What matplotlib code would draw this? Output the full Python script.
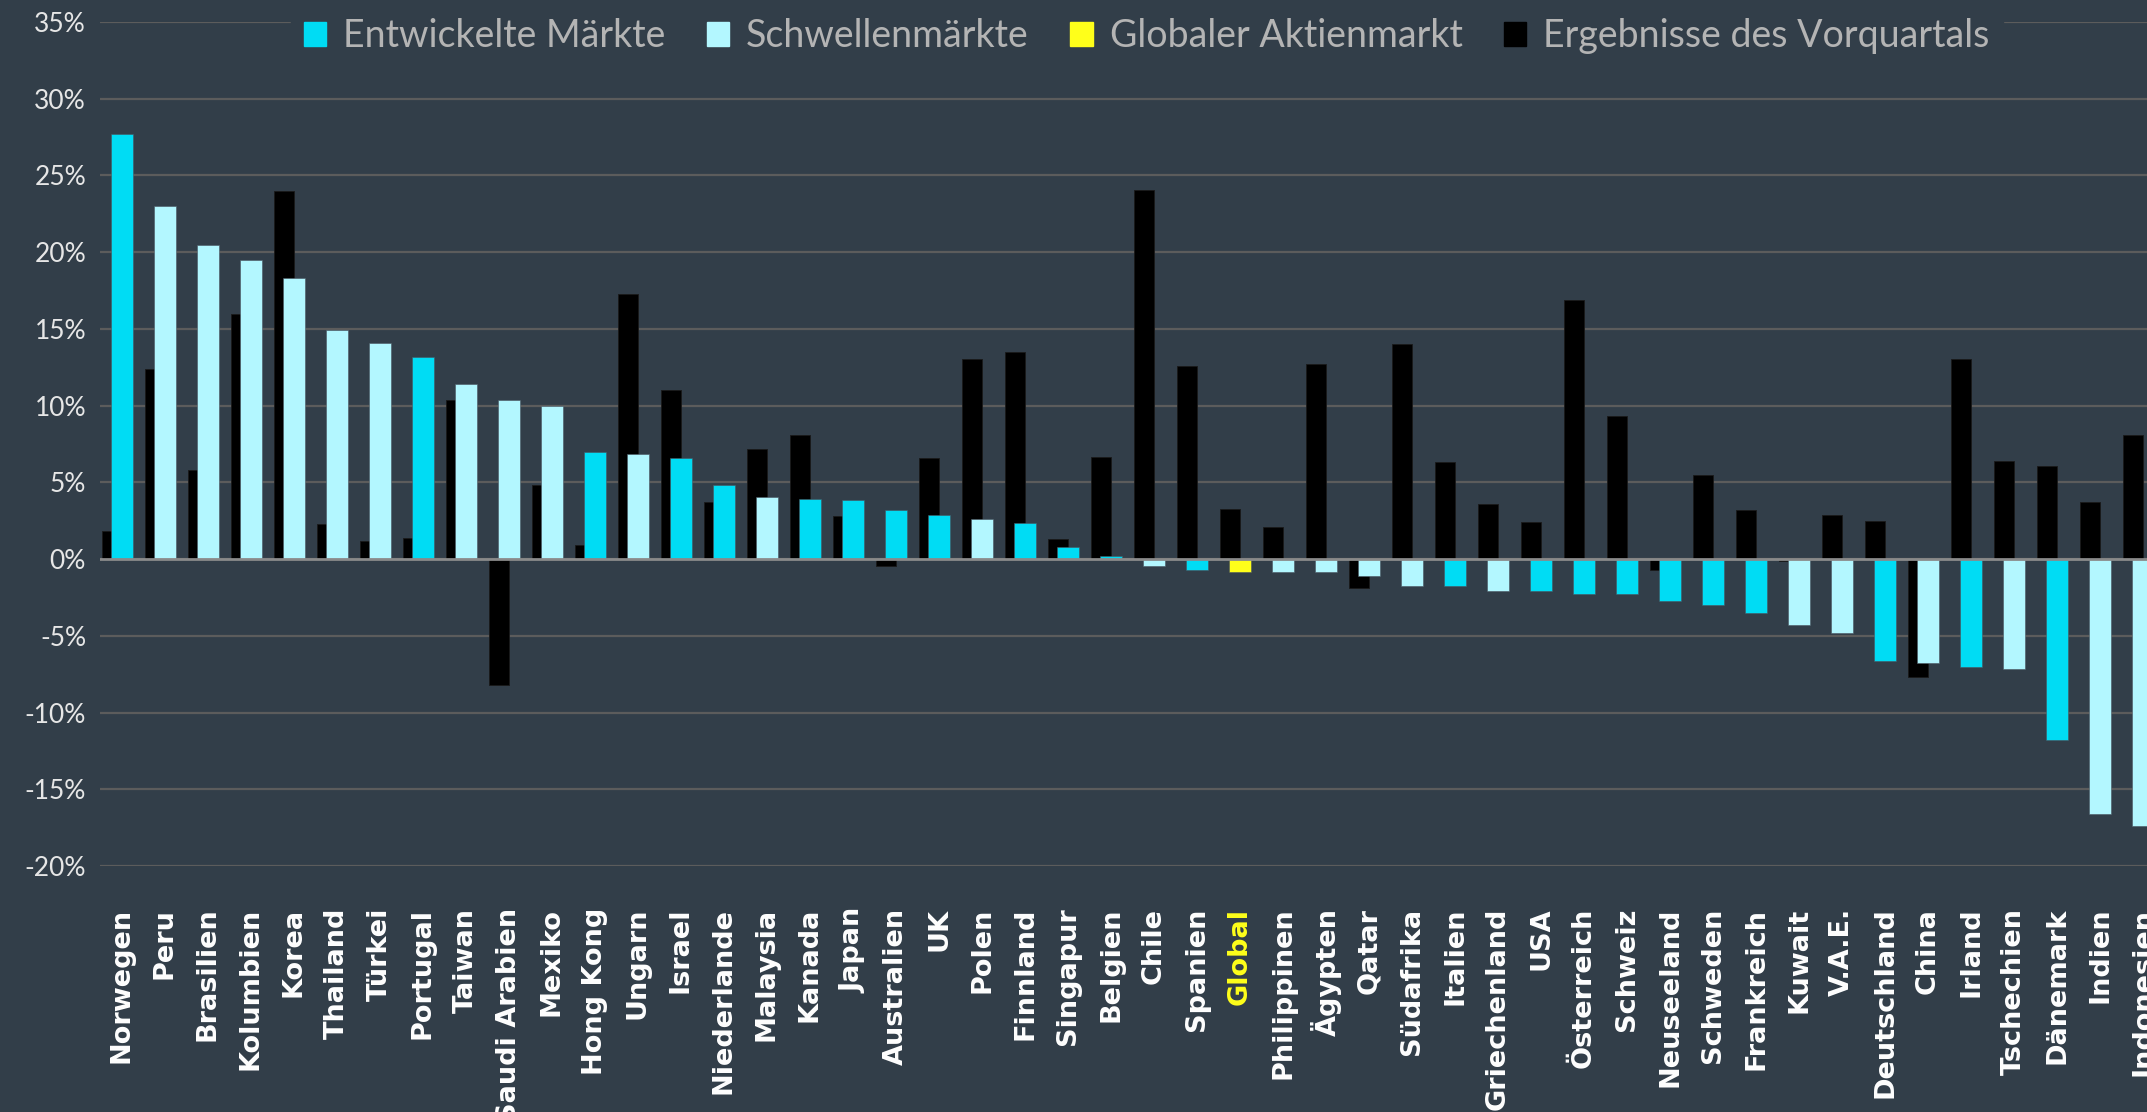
import matplotlib.pyplot as plt
from matplotlib.patches import Patch
from matplotlib.ticker import FuncFormatter, MultipleLocator
import numpy as np

# %%
countries = ["Norwegen", "Peru", "Brasilien", "Kolumbien", "Korea", "Thailand", "Türkei",
             "Portugal", "Taiwan", "Saudi Arabien", "Mexiko", "Hong Kong", "Ungarn", "Israel",
             "Niederlande", "Malaysia", "Kanada", "Japan", "Australien", "UK", "Polen",
             "Finnland", "Singapur", "Belgien", "Chile", "Spanien", "Global", "Philippinen",
             "Ägypten", "Qatar", "Südafrika", "Italien", "Griechenland", "USA", "Österreich",
             "Schweiz", "Neuseeland", "Schweden", "Frankreich", "Kuwait", "V.A.E.",
             "Deutschland", "China", "Irland", "Tschechien", "Dänemark", "Indien", "Indonesien"]

# d = entwickelt, e = schwellen, g = global
groups = ["d", "e", "e", "e", "e", "e", "e",
          "d", "e", "e", "e", "d", "e", "d",
          "d", "e", "d", "d", "d", "d", "e",
          "d", "d", "d", "e", "d", "g", "e",
          "e", "e", "e", "d", "e", "d", "d",
          "d", "d", "d", "d", "e", "e",
          "d", "e", "d", "e", "d", "e", "e"]

current = [27.7, 23.0, 20.5, 19.5, 18.3, 14.9, 14.1,
           13.2, 11.4, 10.35, 9.95, 6.96, 6.83, 6.56,
           4.86, 4.07, 3.94, 3.82, 3.17, 2.89, 2.64,
           2.37, 0.82, 0.17, -0.47, -0.72, -0.87, -0.87,
           -0.87, -1.12, -1.77, -1.77, -2.05, -2.05, -2.3,
           -2.3, -2.72, -2.97, -3.5, -4.3, -4.8,
           -6.64, -6.77, -7.05, -7.18, -11.77, -16.64, -17.4]

previous = [1.85, 12.4, 5.8, 16.0, 24.0, 2.3, 1.2,
            1.35, 10.35, -8.2, 4.86, 0.95, 17.26, 11.0,
            3.7, 7.2, 8.1, 2.8, -0.47, 6.56, 13.07,
            13.47, 1.32, 6.68, 24.05, 12.57, 3.29, 2.12,
            12.7, -1.9, 14.0, 6.3, 3.57, 2.4, 16.86,
            9.3, -0.72, 5.5, 3.17, -0.15, 2.89,
            2.5, -7.7, 13.07, 6.4, 6.04, 3.7, 8.1]

# %%
bg = "#323e49"
farben = {"d": "#00dcf4", "e": "#b3f7ff", "g": "#ffff1a"}

fig = plt.figure(figsize=(21.47, 11.12), dpi=100, facecolor=bg)
ax = fig.add_axes([100 / 2147, 1 - 866 / 1112, 1 - 100 / 2147, 844 / 1112])
ax.set_facecolor(bg)

x = np.arange(len(countries))
ax.bar(x - 0.23, previous, width=0.47, color="#000000", edgecolor="#1a1a1a", linewidth=0.6, zorder=2)
ax.bar(x, current, width=0.51, color=[farben[g] for g in groups],
       edgecolor="#4a5560", linewidth=0.4, zorder=3)

ax.set_ylim(-20, 35)
ax.set_xlim(-0.51, 47.09)
ax.yaxis.set_major_locator(MultipleLocator(5))
ax.yaxis.set_major_formatter(FuncFormatter(lambda v, p: f"{v:.0f}%"))
ax.grid(axis="y", color="#5c5c5c", linewidth=1.6, zorder=0)
ax.axhline(0, color="#8a8a8a", linewidth=2, zorder=4)
for s in ax.spines.values():
    s.set_visible(False)

ax.tick_params(axis="y", length=0, pad=10, labelsize=19, labelcolor="#e6e6e6")
for t in ax.get_yticklabels():
    t.set_family("Lato")
ax.set_xticks(x)
ax.set_xticklabels(countries, rotation=90, fontsize=19.5, fontweight="bold",
                   color="white", family="DejaVu Sans")
ax.tick_params(axis="x", length=0, pad=30)
for t, g in zip(ax.get_xticklabels(), groups):
    if g == "g":
        t.set_color("#ffff1a")

handles = [Patch(color=farben["d"]), Patch(color=farben["e"]),
           Patch(color=farben["g"]), Patch(color="#000000")]
labels = ["Entwickelte Märkte", "Schwellenmärkte", "Globaler Aktienmarkt", "Ergebnisse des Vorquartals"]
leg = fig.legend(handles, labels, loc="upper left", bbox_to_anchor=(272 / 2147, 1.0 + 14 / 1112),
                 ncol=4, frameon=True, facecolor=bg, edgecolor=bg, framealpha=1,
                 handlelength=0.6, handleheight=0.6, handletextpad=0.45, columnspacing=1.1,
                 borderpad=0.35, prop={"family": "Lato", "size": 27})
for t in leg.get_texts():
    t.set_color("#b4b4b4")
leg.set_zorder(10)

fig.savefig("out.png", dpi=100, facecolor=bg)
